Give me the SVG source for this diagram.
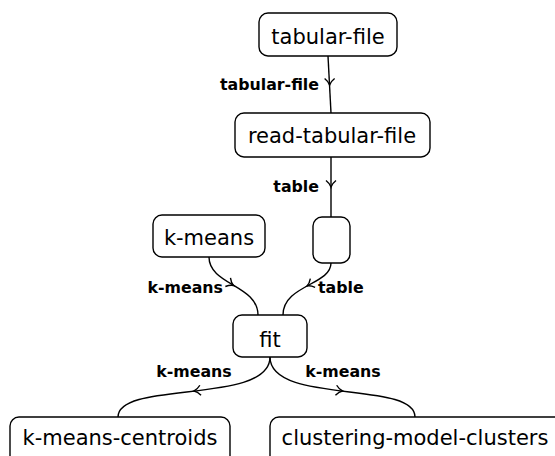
<svg xmlns="http://www.w3.org/2000/svg" xmlns:xlink="http://www.w3.org/1999/xlink" width="555" height="456" viewBox="0 0 555 456">
<style>
.node rect{fill:#fff;stroke:#000;stroke-width:1.4}
.node text{font-family:"DejaVu Sans",sans-serif;font-size:21px;text-anchor:middle;fill:#000}
.edge{fill:none;stroke:#000;stroke-width:1.4}
.lbl{font-family:"DejaVu Sans",sans-serif;font-size:15.8px;font-weight:bold;fill:#000}
</style>
<defs>
<path id="ah" d="M-5,-6.5 C-2.5,-4.5 -0.6,-2 0,0 C0.6,-2 2.5,-4.5 5,-6.5" fill="none" stroke="#000" stroke-width="1.4"/>
</defs>
<rect width="555" height="456" fill="#fff"/>
<g id="connectors">
<path class="edge" d="M328,56 L331,113"/>
<use xlink:href="#ah" transform="translate(329.6,85)"/>
<text class="lbl" x="319" y="90" text-anchor="end">tabular-file</text>
<path class="edge" d="M331,157 L331,217"/>
<use xlink:href="#ah" transform="translate(331,187)"/>
<text class="lbl" x="319" y="192" text-anchor="end">table</text>
<path class="edge" d="M209,257 C209,285 258,285 258,315"/>
<use xlink:href="#ah" transform="translate(233.5,285.5) rotate(-59.4)"/>
<text class="lbl" x="223" y="293" text-anchor="end">k-means</text>
<path class="edge" d="M331,263 C331,285 283,285 283,315"/>
<use xlink:href="#ah" transform="translate(307,286) rotate(61.6)"/>
<text class="lbl" x="318" y="293">table</text>
<path class="edge" d="M270,357 C270,405 118,380 118,417"/>
<use xlink:href="#ah" transform="translate(194,391) rotate(83)"/>
<text class="lbl" x="194" y="377" text-anchor="middle">k-means</text>
<path class="edge" d="M270,357 C270,405 415,380 415,417"/>
<use xlink:href="#ah" transform="translate(342.5,391) rotate(-83)"/>
<text class="lbl" x="343" y="377" text-anchor="middle">k-means</text>
</g>
<g id="tabular-file" class="node"><rect x="259" y="13" width="138" height="43" rx="9"/><text x="328" y="44">tabular-file</text></g>
<g id="read-tabular-file" class="node"><rect x="235" y="113" width="195" height="44" rx="9"/><text x="332" y="143">read-tabular-file</text></g>
<g id="empty" class="node"><rect x="313" y="217" width="37" height="46" rx="9"/></g>
<g id="k-means" class="node"><rect x="153" y="215" width="112" height="42" rx="9"/><text x="209" y="245">k-means</text></g>
<g id="fit" class="node"><rect x="233" y="315" width="74" height="42" rx="9"/><text x="270" y="347">fit</text></g>
<g id="k-means-centroids" class="node"><rect x="10" y="417" width="220" height="50" rx="9"/><text x="120" y="445">k-means-centroids</text></g>
<g id="clustering-model-clusters" class="node"><rect x="270" y="417" width="300" height="50" rx="9"/><text x="415" y="445">clustering-model-clusters</text></g>
</svg>
